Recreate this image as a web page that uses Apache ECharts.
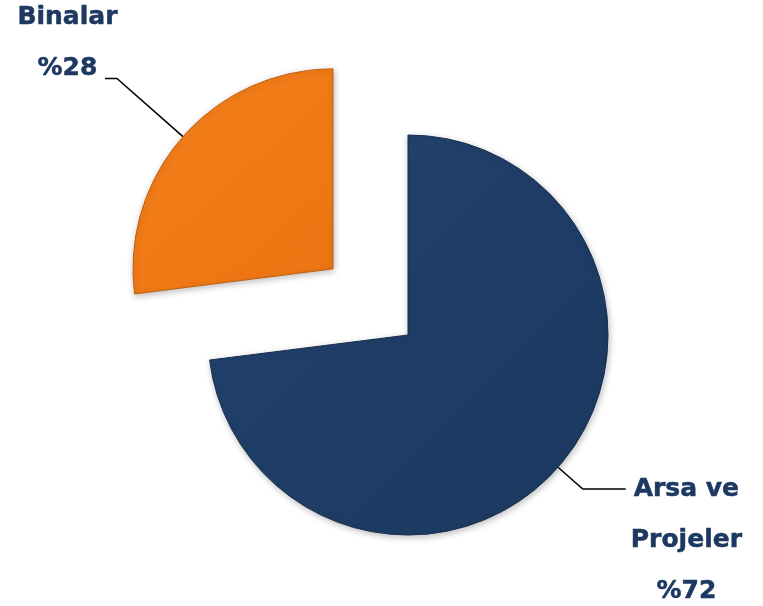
<!DOCTYPE html>
<html>
<head>
<meta charset="utf-8">
<script src="https://cdn.jsdelivr.net/npm/echarts@6/dist/echarts.min.js"></script>
<style>html,body{margin:0;padding:0;background:#fff;}#c{width:763px;height:606px;}</style>
</head>
<body>
<div id="c"></div>
<script>
const categories = ['Arsa ve Projeler', 'Binalar'];
const values = [73, 27];
const labelLines = [['Arsa ve', 'Projeler'], ['Binalar']];
const percentLabels = ['%72', '%28'];

const chart = echarts.init(document.getElementById('c'));

function linear(x, y, x2, y2, stops) {
  return new echarts.graphic.LinearGradient(x, y, x2, y2, stops.map(c => ({offset: c[0], color: c[1]})));
}
const blueFill = linear(0, 0, 1, 1, [[0, '#27497A'], [0.35, '#203F69'], [1, '#1C3860']]);
const orangeFill = linear(0, 0, 1, 1, [[0, '#F89638'], [0.3, '#F27C18'], [1, '#EC7412']]);

const fills = [blueFill, orangeFill];
const borders = ['#17304F', '#C2600E'];
const TEXT = '#1D3861';

const data = categories.map((name, i) => {
  const lines = labelLines[i].map(t => '{t|' + t + '}');
  lines.push('{t|' + percentLabels[i] + '}');
  let text;
  if (i === 0) text = '{e| }\n{e| }\n' + lines.join('\n');
  else text = lines.join('\n') + '\n{b| }';
  const style = {
    color: fills[i], borderColor: borders[i], borderWidth: 1,
    shadowBlur: 6, shadowColor: 'rgba(0,0,0,0.25)', shadowOffsetX: 1, shadowOffsetY: 2
  };
  return {
    name: name,
    value: values[i],
    selected: i === 1,
    itemStyle: style,
    select: {itemStyle: style},
    label: i === 0 ? {
      formatter: text
    } : {
      formatter: text,
      width: 65,
      overflow: 'none'
    },
    labelLine: i === 0 ? {length: 33, length2: 43} : {length: 88, length2: 12}
  };
});

chart.setOption({
  backgroundColor: '#ffffff',
  animation: false,
  series: [{
    type: 'pie',
    center: [408, 335],
    radius: [0, 200],
    startAngle: 90,
    clockwise: true,
    selectedMode: 'single',
    selectedOffset: 100,
    avoidLabelOverlap: false,
    emphasis: {disabled: true},
    label: {
      show: true,
      position: 'outside',
      lineHeight: 51,
      rich: {
        t: {fontFamily: 'DejaVu Sans', fontWeight: 'bold', fontSize: 25, color: TEXT, align: 'center', lineHeight: 51,
            textBorderColor: TEXT, textBorderWidth: 0.5},
        e: {fontSize: 25, lineHeight: 51},
        b: {fontSize: 25, lineHeight: 71}
      }
    },
    labelLine: {show: true, lineStyle: {color: '#000000', width: 1.5}},
    data: data
  }]
});
</script>
</body>
</html>
